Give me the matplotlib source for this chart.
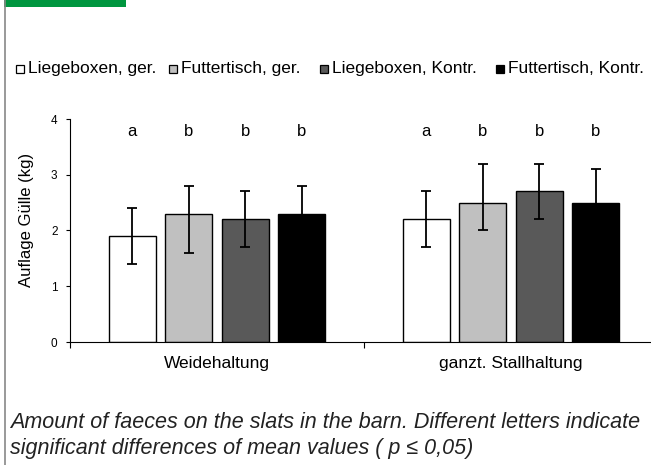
import matplotlib
matplotlib.use("Agg")
import matplotlib.pyplot as plt
from matplotlib.patches import Rectangle
from matplotlib.lines import Line2D
import numpy as np

categories = ["Weidehaltung", "ganzt. Stallhaltung"]
series = ["Liegeboxen, ger.", "Futtertisch, ger.", "Liegeboxen, Kontr.", "Futtertisch, Kontr."]
colors = ["#FFFFFF", "#C0C0C0", "#595959", "#000000"]
values = [[1.9, 2.2], [2.3, 2.5], [2.2, 2.7], [2.3, 2.5]]
err_low = [[0.5, 0.5], [0.7, 0.5], [0.5, 0.5], [0.5, 0.5]]
err_high = [[0.5, 0.5], [0.5, 0.7], [0.5, 0.5], [0.5, 0.6]]
letters = [["a", "a"], ["b", "b"], ["b", "b"], ["b", "b"]]
yticks = [0, 1, 2, 3, 4]
ylabel = "Auflage Gülle (kg)"
caption_lines = ["Amount of faeces on the slats in the barn. Different letters indicate",
                 "significant differences of mean values ( p \u2264 0,05)"]

W, H = 651, 465
fig = plt.figure(figsize=(W / 100, H / 100), dpi=100)
plt.rcParams['font.family'] = ['Liberation Sans', 'DejaVu Sans']

# decorations
fig.patches.append(Rectangle((4 / W, 1 - 7.5 / H), 122 / W, 7.5 / H, transform=fig.transFigure,
                             facecolor="#00963F", edgecolor="none"))
fig.add_artist(Line2D([4.5 / W, 4.5 / W], [0, 1], transform=fig.transFigure, color="#888888", lw=1.2))

ax = fig.add_axes([70 / W, 1 - 342 / H, 588 / W, (342 - 119) / H])
ax.set_xlim(0, 2)
ax.set_ylim(0, 4)

spacing = 0.192
width = 0.16
centers = np.array([0.5, 1.5])
for i, s in enumerate(series):
    x = centers + (i - 1.5) * spacing
    ax.bar(x, values[i], width=width, color=colors[i], edgecolor="black", linewidth=1.0, zorder=2)
    ax.errorbar(x, values[i], yerr=[err_low[i], err_high[i]], fmt="none", ecolor="black",
                elinewidth=1.3, capsize=3.5, capthick=1.3, zorder=3)
    for j in range(2):
        ax.text(x[j], 3.78, letters[i][j], ha="center", va="center", fontsize=12)

ax.spines["top"].set_visible(False)
ax.spines["right"].set_visible(False)
ax.spines["left"].set_linewidth(0.8)
ax.spines["bottom"].set_linewidth(0.8)
ax.set_yticks(yticks)
ax.set_yticklabels([str(t) for t in yticks], fontsize=8.5)
ax.tick_params(axis="y", length=3, width=0.8, pad=6)
ax.set_xticks([0, 1, 2])
ax.set_xticklabels([])
ax.tick_params(axis="x", length=4, width=0.8, direction="out")
for c, lab in zip(centers, categories):
    ax.text(c, -(363 - 342) / 55.75, lab, ha="center", va="center", fontsize=12.5)
ax.set_ylabel(ylabel, fontsize=12)
ax.yaxis.set_label_coords(-0.061, 0.547)

# legend
leg_x = [20, 173, 324, 500]
for i, s in enumerate(series):
    fig.patches.append(Rectangle(((leg_x[i] - 4) / W, 1 - 73 / H), 8 / W, 8 / H,
                                 transform=fig.transFigure, facecolor=colors[i],
                                 edgecolor="black", linewidth=0.9))
    fig.text((leg_x[i] + 8) / W, 1 - 73 / H, s, ha="left", va="baseline", fontsize=12.5)

cap_font = ['Liberation Sans Narrow', 'Liberation Sans', 'DejaVu Sans']
for k, (line, base) in enumerate(zip(caption_lines, [428, 454])):
    fig.text(10 / W, 1 - base / H, line, ha="left", va="baseline", fontsize=15.5, style="italic",
             family=cap_font, color="#222222")

fig.savefig("out.png", dpi=100)
